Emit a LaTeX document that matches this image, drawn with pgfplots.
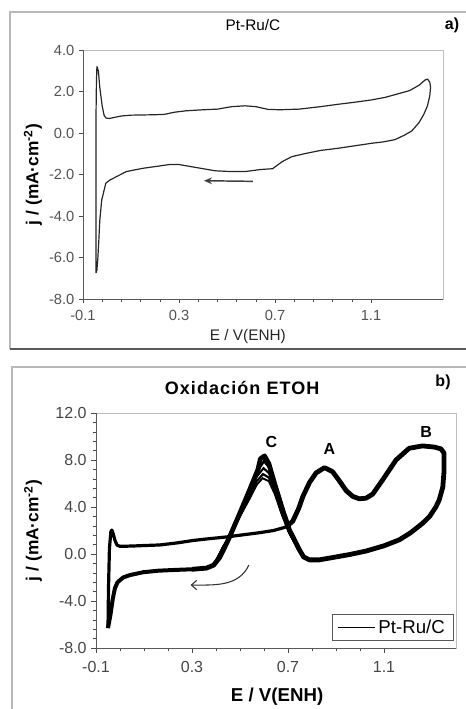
\documentclass[border=0pt]{standalone}
\usepackage{fontspec}
\setmainfont{Liberation Sans}
\usepackage{pgfplots}
\pgfplotsset{compat=1.18}
\usetikzlibrary{arrows.meta}
\begin{document}
\begin{tikzpicture}
\useasboundingbox (0,0) rectangle (349.5pt,-531.75pt);
% panel frames
\draw[gray!55, line width=0.9pt] (360pt,-9pt) -- (7.5pt,-9pt) -- (7.5pt,-261.75pt);
\draw[gray!70!black, line width=1.1pt] (7.5pt,-261.75pt) -- (360pt,-261.75pt);
\draw[gray!55, line width=0.9pt] (360pt,-275.25pt) -- (9pt,-275.25pt) -- (9pt,-540pt);

% ---------------- panel a ----------------
\begin{axis}[
  at={(62.25pt,-224.25pt)}, anchor=south west,
  width=270pt, height=186.75pt, scale only axis,
  xmin=-0.1, xmax=1.4, ymin=-8, ymax=4,
  xtick={-0.1,0.3,0.7,1.1}, minor x tick num=4,
  ytick={-8,-6,-4,-2,0,2,4},
  tick align=outside, tick pos=left,
  major tick length=3pt, minor tick length=2.5pt,
  axis line style={gray!50},
  every tick/.style={gray!60!black},
  /pgf/number format/assume math mode=true,
  /pgf/number format/.cd, fixed, fixed zerofill, precision=1, /pgfplots/.cd,
  ticklabel style={font=\fontsize{11}{12}\selectfont, text=gray!65!black},
  xticklabel style={yshift=-2pt},
  xlabel={E / V(ENH)},
  xlabel style={at={(axis description cs:0.458,-0.151)}, anchor=center, font=\fontsize{11.5}{13}\selectfont, text=black!85},
  ylabel={j / (mA·cm\textsuperscript{-2})},
  ylabel style={at={(axis description cs:-0.139,0.5)}, anchor=center, font=\bfseries\fontsize{13}{15}\selectfont},
  clip=false,
]
\draw[gray!70!black, line width=0.7pt] (rel axis cs:0,1) -- (rel axis cs:0,0) -- (rel axis cs:1,0);
\addplot[black!85, line width=0.9pt, line join=round] coordinates {
(-0.046,-6.75) (-0.046,0.6) (-0.044,2.5) (-0.042,3.2) (-0.036,3.0) (-0.030,2.2)
(-0.020,1.3) (-0.012,0.85) (-0.004,0.72) (0.010,0.70) (0.030,0.75) (0.060,0.82)
(0.100,0.86) (0.150,0.87) (0.200,0.88) (0.240,0.90) (0.280,1.00) (0.330,1.07)
(0.400,1.12) (0.460,1.15) (0.520,1.27) (0.575,1.31) (0.620,1.27) (0.670,1.14)
(0.720,1.12) (0.800,1.15) (0.890,1.27) (0.960,1.38) (1.030,1.48) (1.100,1.59)
(1.160,1.72) (1.210,1.88) (1.260,2.04) (1.300,2.30) (1.325,2.55) (1.335,2.60)
(1.345,2.45) (1.348,2.20) (1.345,1.80) (1.335,1.30) (1.320,0.90) (1.300,0.50)
(1.270,0.10) (1.240,-0.10) (1.200,-0.32) (1.150,-0.43) (1.100,-0.50) (1.030,-0.62)
(0.960,-0.74) (0.890,-0.84) (0.830,-0.98) (0.770,-1.14) (0.730,-1.38) (0.690,-1.72)
(0.640,-1.76) (0.575,-1.86) (0.500,-1.85) (0.450,-1.82) (0.400,-1.72) (0.350,-1.62)
(0.300,-1.52) (0.260,-1.52) (0.200,-1.62) (0.150,-1.70) (0.080,-1.86) (0.040,-2.10)
(0.012,-2.27) (-0.005,-2.42) (-0.015,-2.90) (-0.022,-3.23) (-0.030,-4.20)
(-0.034,-5.16) (-0.038,-6.00) (-0.042,-6.60) (-0.046,-6.75)
};
\draw[-{Stealth[length=6pt,width=5pt]}, black!75, line width=1.1pt] (axis cs:0.608,-2.33) -- (axis cs:0.404,-2.30);
\node[font=\fontsize{11.5}{13}\selectfont] at (axis description cs:0.472,1.1004) {Pt-Ru/C};
\node[font=\bfseries\fontsize{12}{14}\selectfont] at (axis description cs:1.025,1.1004) {a)};
\end{axis}

% ---------------- panel b ----------------
\begin{axis}[
  at={(72pt,-486pt)}, anchor=south west,
  width=270pt, height=176.25pt, scale only axis,
  xmin=-0.1, xmax=1.4, ymin=-8, ymax=12,
  xtick={-0.1,0.3,0.7,1.1}, minor x tick num=3,
  ytick={-8,-4,0,4,8,12}, minor y tick num=4,
  tick align=outside, tick pos=left,
  major tick length=3.5pt, minor tick length=2.5pt,
  axis line style={gray!50},
  every tick/.style={gray!60!black},
  /pgf/number format/assume math mode=true,
  /pgf/number format/.cd, fixed, fixed zerofill, precision=1, /pgfplots/.cd,
  ticklabel style={font=\fontsize{12}{14}\selectfont, text=gray!55!black},
  xticklabel style={yshift=-3pt},
  xlabel={E / V(ENH)},
  xlabel style={at={(axis description cs:0.503,-0.2085)}, anchor=center, font=\bfseries\fontsize{14}{16}\selectfont},
  ylabel={j / (mA·cm\textsuperscript{-2})},
  ylabel style={at={(axis description cs:-0.175,0.5)}, anchor=center, font=\bfseries\fontsize{13}{15}\selectfont},
  legend style={at={(axis description cs:0.992,0.03)}, anchor=south east, draw=gray!70!black,
    font=\fontsize{14}{16}\selectfont, inner xsep=4pt, inner ysep=2pt},
  legend cell align=left,
  clip=false,
]
\draw[gray!70!black, line width=0.7pt] (rel axis cs:0,1) -- (rel axis cs:0,0) -- (rel axis cs:1,0);
% spike and flat anodic part
\addplot[black, line width=2.4pt, line join=round, forget plot] coordinates {
(-0.050,-6.3) (-0.048,-3.0) (-0.044,0.5) (-0.038,1.9) (-0.034,2.04) (-0.028,1.7)
(-0.020,1.1) (-0.012,0.75) (0.000,0.65) (0.050,0.68) (0.100,0.72) (0.166,0.77)
(0.240,0.95) (0.304,1.15) (0.370,1.30) (0.443,1.45) (0.500,1.60) (0.580,1.81)
(0.640,2.00) (0.692,2.30)
};
% rest of the cycle
\addplot[black, line width=3.6pt, line join=round, forget plot] coordinates {
(0.692,2.30) (0.720,2.80) (0.745,3.90) (0.762,4.90) (0.790,6.10)
(0.817,6.90) (0.852,7.35) (0.886,7.00) (0.915,6.20) (0.942,5.40) (0.970,4.90)
(0.997,4.70) (1.025,4.75) (1.053,5.10) (1.094,6.30) (1.150,8.00) (1.205,9.00)
(1.260,9.20) (1.310,9.10) (1.337,8.95) (1.350,8.60) (1.350,7.00) (1.345,5.70)
(1.330,4.60) (1.316,4.00) (1.290,3.20) (1.260,2.60) (1.210,1.80) (1.163,1.20)
(1.100,0.70) (1.025,0.25) (0.955,-0.05) (0.886,-0.30) (0.830,-0.50) (0.790,-0.50)
(0.765,-0.25) (0.748,0.34) (0.706,2.04) (0.678,3.74) (0.644,6.00) (0.620,7.70)
(0.602,8.35) (0.585,8.10) (0.575,7.20) (0.540,5.45) (0.499,3.46) (0.457,1.47)
(0.430,0.30) (0.415,-0.30) (0.390,-0.95) (0.360,-1.20) (0.300,-1.30)
};
\addplot[black, line width=3pt, line join=round, forget plot] coordinates {
(0.300,-1.30) (0.235,-1.35)
(0.160,-1.42) (0.097,-1.55) (0.040,-1.80) (0.013,-2.00) (-0.010,-2.40)
(-0.021,-2.90) (-0.030,-3.80) (-0.040,-5.20) (-0.050,-6.30)
};
% inner cycles of peak C
\addplot[black, line width=1.8pt, forget plot] coordinates {
(0.400,-0.6) (0.430,0.6) (0.460,1.6) (0.500,3.4) (0.540,5.3) (0.570,7.0) (0.600,7.9)
(0.620,7.4) (0.645,5.8) (0.675,3.7) (0.705,1.9) (0.745,0.3)
};
\addplot[black, line width=1.6pt, forget plot] coordinates {
(0.400,-0.6) (0.430,0.6) (0.460,1.6) (0.500,3.4) (0.540,5.2) (0.570,6.6) (0.598,7.3)
(0.620,6.9) (0.645,5.6) (0.675,3.6) (0.705,1.9) (0.745,0.3)
};
\addplot[black, line width=1.6pt, forget plot] coordinates {
(0.400,-0.6) (0.430,0.6) (0.460,1.6) (0.500,3.3) (0.540,4.9) (0.570,6.2) (0.596,6.8)
(0.620,6.5) (0.645,5.3) (0.675,3.4) (0.705,1.8) (0.745,0.3)
};
\addplot[black, line width=1.4pt, forget plot] coordinates {
(0.400,-0.6) (0.430,0.6) (0.460,1.6) (0.500,3.2) (0.540,4.7) (0.570,5.9) (0.594,6.45)
(0.620,6.2) (0.645,5.1) (0.675,3.3) (0.705,1.8) (0.745,0.3)
};
\addlegendimage{legend image code/.code={\draw[black, line width=0.8pt] (0pt,0pt) -- (28pt,0pt);}}
\addlegendentry{Pt-Ru/C}
\draw[-{Straight Barb[length=4pt,width=7pt]}, black!80, line width=0.8pt]
  (axis cs:0.537,-0.94) to[out=-115, in=0] (axis cs:0.294,-2.64);
\node[font=\bfseries\fontsize{12}{14}\selectfont] at (axis cs:0.631,9.53) {C};
\node[font=\bfseries\fontsize{12}{14}\selectfont] at (axis cs:0.873,8.94) {A};
\node[font=\bfseries\fontsize{12}{14}\selectfont] at (axis cs:1.276,10.38) {B};
\node[font=\bfseries\fontsize{13.5}{16}\selectfont] at (axis description cs:0.406,1.106) {\addfontfeature{LetterSpace=6}Oxidación ETOH};
\node[font=\bfseries\fontsize{12}{14}\selectfont] at (axis description cs:0.964,1.132) {b)};
\end{axis}
\end{tikzpicture}
\end{document}
